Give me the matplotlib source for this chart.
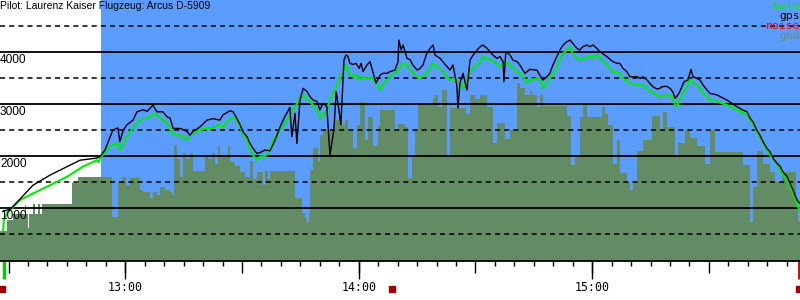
import matplotlib
matplotlib.use("Agg")
import matplotlib.pyplot as plt
import matplotlib.transforms as mtransforms

# ---------------- data (time in minutes after 12:00, altitude in m) ----------------
title = "Pilot: Laurenz Kaiser Flugzeug: Arcus D-5909"
x_start, x_end = 27.8, 233.4
flight_start = 53.8

gnd_t = [27.8, 29.6, 31.1, 34.2, 34.5, 35.0, 35.3, 36.3, 36.8, 37.6, 38.1, 38.6, 46.3, 47.8,
         56.6, 58.1, 59.1, 60.2, 61.2, 63.8, 64.5, 66.3, 67.1, 68.1, 68.9, 70.2, 71.5, 72.0,
         72.5, 73.3, 74.1, 74.8, 75.6, 76.6, 77.4, 80.5, 81.2, 82.3, 83.0, 83.8, 84.3, 86.4,
         86.9, 88.2, 89.5, 90.8, 92.0, 92.8, 93.8, 95.4, 95.9, 96.7, 97.2, 103.6, 105.4, 106.2,
         106.7, 107.2, 107.5, 108.2, 109.5, 110.0, 110.8, 113.9, 115.7, 116.4, 117.2, 118.5,
         119.5, 120.3, 121.6, 122.4, 123.6, 124.9, 125.5, 129.3, 130.1, 131.9, 132.6, 133.7,
         134.4, 135.2, 139.1, 139.6, 140.3, 141.4, 142.7, 143.4, 147.5, 148.6, 149.9, 151.1,
         152.9, 154.5, 155.5, 157.6, 158.8, 160.6, 161.4, 162.7, 164.0, 164.5, 165.8, 166.6,
         167.3, 173.5, 174.5, 175.6, 176.8, 177.6, 178.6, 182.5, 183.3, 184.0, 185.3, 186.3,
         187.1, 188.9, 189.7, 190.5, 191.5, 193.0, 195.3, 197.4, 198.2, 199.2, 201.2, 202.0,
         203.8, 205.1, 206.9, 209.0, 210.2, 211.5, 218.7, 220.5, 221.3, 222.3, 223.9, 225.7,
         227.0, 228.7, 232.3, 232.9, 233.4]
gnd_v = [550, 760, 880, 1050, 880, 620, 880, 1077, 880, 1077, 880, 1077, 1480, 1600,
         820, 1500, 1600, 1450, 1580, 1350, 1310, 1190, 1310, 1250, 1400, 1340, 1300, 1250,
         2210, 1950, 1600, 2050, 1950, 2050, 1710, 1990, 1950, 2050, 1850, 2200, 2020, 2200,
         1880, 1800, 1700, 1600, 1900, 1550, 1700, 1440, 1710, 1550, 1710, 1190, 900, 800,
         710, 900, 1730, 2150, 1900, 2400, 2500, 2690, 2600, 2690, 2500, 2150,
         2600, 3045, 2310, 2750, 2200, 2600, 2880, 2500, 2620, 2550, 1580, 2000,
         2500, 3020, 3120, 3170, 2940, 3270, 2000, 2930, 2800, 3170, 3100, 3170,
         2950, 2250, 2640, 2330, 2500, 3400, 3300, 3170, 3250, 3170, 2950, 3170,
         2960, 2760, 1830, 2020, 2750, 2980, 2750, 2950, 2800, 2600, 1850, 2300,
         1670, 1500, 1350, 1500, 2100, 2300, 2760, 2500, 2850, 2550, 2000, 2250,
         2500, 2350, 2200, 1850, 2500, 2080, 1830, 740, 1410, 2100, 1850, 1700,
         1500, 1700, 1200, 750, 750]

baro_t = [28.6, 28.8, 29.6, 30.4, 32.9, 36.3, 40.7, 45.0, 49.1, 52.7, 53.2, 53.5, 56.1, 57.9,
          58.6, 60.4, 62.0, 63.8, 65.6, 66.4, 67.6, 68.9, 70.7, 72.3, 74.1, 75.9, 76.6, 78.4,
          80.5, 82.5, 84.3, 85.1, 86.1, 87.7, 88.7, 89.5, 90.2, 91.3, 92.05, 92.8, 93.8, 94.6,
          95.9, 96.7, 98.0, 99.8, 101.6, 103.1, 104.9, 105.7, 107.5, 109.3, 110.0, 111.8, 112.6,
          114.4, 116.0, 116.7, 117.75, 118.5, 119.5, 120.3, 121.1, 122.1, 122.9, 123.7, 124.7,
          125.5, 126.2, 127.3, 128.0, 129.8, 131.4, 132.4, 133.2, 135.0, 135.7, 137.5, 139.1,
          140.1, 141.6, 142.7, 143.45, 144.2, 146.0, 146.8, 147.8, 148.6, 149.9, 151.2, 151.9,
          153.0, 153.7, 155.5, 156.3, 157.1, 158.1, 159.6, 160.7, 161.4, 162.2, 163.2, 164.0,
          165.8, 166.6, 167.3, 168.4, 169.9, 170.9, 171.7, 172.5, 173.5, 174.3, 175.0, 176.1,
          176.8, 177.6, 179.4, 180.2, 181.2, 182.0, 183.8, 185.3, 187.1, 187.9, 189.7, 191.5,
          193.0, 194.1, 195.6, 197.4, 198.7, 199.5, 200.5, 201.3, 201.8, 202.5, 203.8, 204.6,
          205.1, 205.9, 206.9, 207.7, 208.5, 209.5, 210.3, 212.1, 214.6, 217.2, 219.8, 220.6,
          221.3, 222.3, 223.9, 224.9, 225.7, 227.0, 228.3, 229.0, 230.1, 230.8, 231.6, 232.6,
          233.4]
baro_v = [560, 770, 900, 960, 1150, 1280, 1440, 1600, 1795, 1920, 1880, 1960, 2180, 2250,
          2120, 2370, 2540, 2690, 2730, 2756, 2820, 2740, 2630, 2400, 2400, 2310, 2400, 2470,
          2530, 2540, 2600, 2540, 2660, 2740, 2690, 2560, 2440, 2310, 2115, 2020, 1920, 1987,
          2000, 2050, 2300, 2500, 2690, 2880, 3110, 3170, 3045, 2880, 2720, 2880, 3080,
          3365, 3620, 3750, 3560, 3520, 3560, 3460, 3520, 3480, 3520, 3460, 3400,
          3270, 3360, 3460, 3525, 3620, 3780, 3750, 3650, 3525, 3500, 3590, 3780,
          3720, 3620, 3525, 3460, 3490, 3400, 3300, 3460, 3620, 3720, 3810, 3910,
          3880, 3850, 3780, 3720, 3750, 3810, 3690, 3620, 3590, 3530, 3400, 3460,
          3490, 3460, 3300, 3400, 3590, 3690, 3850, 3970, 4040, 4100, 3970, 3880,
          3840, 3880, 3910, 3880, 3940, 3880, 3750, 3620, 3590, 3490, 3400, 3365,
          3365, 3300, 3205, 3140, 3170, 3170, 3140, 2980, 2950, 3080, 3270, 3400,
          3470, 3400, 3365, 3300, 3205, 3140, 3080, 3050, 2980, 2880, 2790, 2690,
          2630, 2470, 2240, 2120, 2020, 1900, 1730, 1640, 1540, 1410, 1280, 1090,
          930]

gps_t = [28.6, 30.4, 32.9, 36.3, 40.7, 45.0, 48.4, 52.7, 53.5, 54.8, 56.8, 58.1, 58.6, 59.4,
         60.4, 62.0, 63.0, 64.6, 65.6, 66.4, 67.1, 68.1, 69.7, 70.7, 71.5, 72.3, 74.1, 75.9,
         76.6, 77.4, 79.2, 81.0, 82.5, 84.3, 85.1, 86.9, 87.7, 88.7, 89.5, 90.2, 91.3, 92.05,
         92.8, 93.8, 94.6, 95.9, 97.2, 98.5, 99.8, 101.0, 102.3, 102.8, 103.6, 104.1, 104.9,
         105.7, 106.7, 107.5, 108.2, 109.3, 110.0, 110.8, 111.8, 112.6, 113.6, 114.2, 114.9,
         115.4, 116.0, 116.2, 116.7, 117.2, 117.75, 118.5, 119.3, 120.1, 120.6, 121.1, 122.1,
         122.9, 123.7, 124.4, 125.5, 126.2, 127.3, 128.0, 129.3, 130.1, 130.3, 130.9, 131.4,
         132.4, 133.2, 133.9, 135.0, 135.7, 136.5, 137.5, 138.3, 139.1, 139.6, 140.9, 141.6,
         142.7, 143.45, 144.2, 144.7, 145.2, 145.5, 146.0, 146.8, 147.3, 147.8, 148.6, 149.4,
         150.4, 151.2, 151.9, 153.0, 153.7, 154.5, 155.5, 156.3, 157.1, 157.3, 157.8, 158.9,
         159.6, 160.7, 161.4, 162.7, 164.0, 165.8, 167.3, 168.4, 169.1, 169.9, 170.9, 171.7,
         172.5, 173.5, 174.3, 175.0, 176.1, 176.8, 177.6, 178.6, 179.4, 180.2, 181.2, 182.0,
         183.8, 185.3, 186.4, 187.1, 187.9, 188.9, 189.7, 191.5, 192.3, 193.0, 194.1, 194.8,
         195.6, 196.6, 197.4, 197.9, 199.2, 200.0, 200.7, 201.3, 202.0, 202.5, 203.6, 204.6,
         205.1, 205.4, 205.9, 206.9, 207.7, 208.5, 209.5, 210.3, 212.1, 214.6, 217.2, 218.7,
         219.8, 220.6, 221.3, 222.3, 223.1, 223.9, 224.9, 225.7, 226.5, 227.5, 228.3, 229.0,
         230.1, 230.8, 231.6, 232.6, 233.4]
gps_v = [940, 975, 1170, 1440, 1635, 1795, 1920, 1960, 1990, 2115, 2500, 2540, 2275, 2480,
         2600, 2690, 2850, 2890, 2860, 2920, 2980, 2850, 2850, 2756, 2730, 2530, 2530, 2470,
         2400, 2470, 2560, 2690, 2720, 2690, 2790, 2870, 2850, 2720, 2600, 2470, 2370, 2240,
         2150, 2050, 2064, 2115, 2100, 2307, 2564, 2756, 2935, 2370, 2820, 2243, 3077,
         3300, 3240, 3140, 3080, 3045, 2884, 3012, 2950, 2020, 2500, 3237, 2884,
         2600, 3525, 3846, 3942, 3920, 3782, 3760, 3782, 3686, 3782, 3622, 3750,
         3814, 3600, 3400, 3557, 3590, 3590, 3622, 3653, 3814, 4230, 4038, 4134,
         3878, 3850, 3750, 3653, 3680, 3750, 3974, 4070, 4134, 3940, 3878, 3814,
         3718, 3653, 3750, 3557, 3365, 2922, 3400, 3590, 3430, 3269, 3846, 3942,
         4038, 4102, 4134, 4070, 4006, 3942, 3878, 3910, 3814, 3429, 4006, 3942,
         3846, 3814, 3750, 3590, 3666, 3650, 3461, 3525, 3590, 3750, 3910, 4038,
         4134, 4198, 4230, 4166, 4070, 4038, 4102, 4134, 4102, 4134, 4070, 4006,
         3910, 3814, 3782, 3782, 3686, 3622, 3525, 3525, 3493, 3525, 3461, 3397,
         3333, 3290, 3301, 3333, 3340, 3301, 3237, 3109, 3173, 3237, 3429, 3461,
         3590, 3666, 3525, 3493, 3461, 3365, 3269, 3205, 3173, 3077, 2949, 2884,
         2850, 2724, 2660, 2500, 2400, 2275, 2147, 2080, 1955, 1859, 1800, 1699,
         1600, 1474, 1350, 1154, 1090]

grid_solid = [1000, 2000, 3000, 4000]
grid_dashed = [500, 1500, 2500, 3500, 4500]
hour_ticks = [60, 120, 180]
hour_labels = ["13:00", "14:00", "15:00"]
half_ticks = [30, 90, 150, 210]
minor_ticks = list(range(30, 235, 5))
legend_names = ["baro", "gps", "noise", "gnd"]
event_times = [28.3, 128.5, 233.1]
takeoff_time = 28.7
landing_time = 233.2

# ---------------- styling ----------------
BLUE = "#5a9cff"
GND = "#648c64"
BARO = "#00ee00"
legend_colors = [BARO, "black", "#ff0000", "#6e8e6e"]

fig = plt.figure(figsize=(8, 3), dpi=100)
ax = fig.add_axes([0, 39 / 300, 1, 261 / 300])
ax.set_xlim(x_start, x_end)
ax.set_ylim(-19, 5000)

ax.axvspan(flight_start, x_end, color=BLUE, zorder=0, lw=0)
ax.fill_between(gnd_t, gnd_v, -100, step="post", color=GND, lw=0, zorder=1)

for v in grid_solid:
    ax.axhline(v, color="black", lw=1.3, zorder=2)
for v in grid_dashed:
    ax.axhline(v, color="black", lw=1.1, ls=(0, (3.3, 2.7)), zorder=2)

ax.plot(baro_t, baro_v, color=BARO, lw=1.5, zorder=3)
ax.plot(gps_t, gps_v, color="black", lw=1.0, zorder=4)

ytrans = mtransforms.blended_transform_factory(ax.transAxes, ax.transData)
for v in grid_solid:
    ax.text(0.0, v - 40, str(v), transform=ytrans, ha="left", va="top",
            fontsize=8.6, family="Liberation Sans", color="black", zorder=5)

for s in ["top", "left", "right"]:
    ax.spines[s].set_visible(False)
ax.spines["bottom"].set_linewidth(1.3)
ax.set_yticks([])

ax.set_xticks(hour_ticks + half_ticks)
ax.set_xticklabels(hour_labels + [""] * len(half_ticks), family="DejaVu Sans Mono", fontsize=8.4)
ax.set_xticks(minor_ticks, minor=True)
ax.tick_params(axis="x", which="major", length=8.6, width=1, pad=5.8, color="black")
ax.tick_params(axis="x", which="minor", length=3.6, width=1, color="black")

xtrans = mtransforms.blended_transform_factory(ax.transData, ax.transAxes)
ax.vlines(hour_ticks, 0, -18 / 261, transform=xtrans, color="black", lw=1, clip_on=False)
ax.vlines([takeoff_time], 0, -18 / 261, transform=xtrans, color="#00cc00", lw=2.4, clip_on=False)
ax.vlines([landing_time], 0, -18 / 261, transform=xtrans, color="#dd0000", lw=2.0, clip_on=False)
ax.plot(event_times, [-27.5 / 261] * len(event_times), "s", transform=xtrans,
        color="#a00000", ms=4.5, clip_on=False)

fig.text(0.0, 1 - 1 / 300, title, ha="left", va="top", fontsize=7.5,
         family="Liberation Sans", color="black")
for i, (name, col) in enumerate(zip(legend_names, legend_colors)):
    fig.text(1.0, 1 - (1 + 10 * i) / 300, name, ha="right", va="top",
             fontsize=8.2, family="DejaVu Sans Mono", color=col)

fig.savefig("out.png", dpi=100)
